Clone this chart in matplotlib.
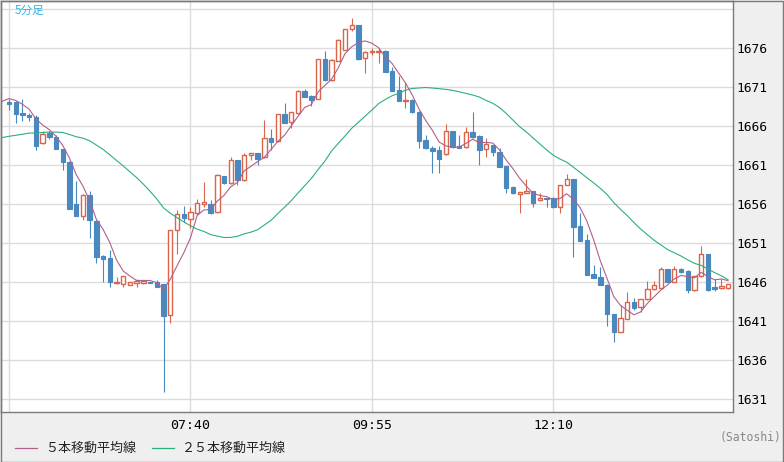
import numpy as np
import pandas as pd
import matplotlib
matplotlib.use("Agg")
import matplotlib.pyplot as plt
from matplotlib.patches import Rectangle
from matplotlib.lines import Line2D

# ---- data (5-minute candles, index 0 = 05:25) ----
prior_closes = [1664.8, 1664.5, 1664.0, 1663.5, 1663.0, 1663.5, 1663.2, 1663.2,
                1662.5, 1662.0, 1661.5, 1661.8, 1662.3, 1662.8, 1663.0, 1663.5,
                1664.0, 1664.3, 1664.6, 1665.2, 1667.0, 1668.8, 1669.9, 1670.3, 1669.8]

opens = [1669.1, 1669.1, 1667.7, 1667.45, 1667.2, 1663.8, 1665.06, 1664.6, 1663.05, 1661.4,
         1656.0, 1654.4, 1657.15, 1653.8, 1649.3, 1649.1, 1645.9, 1645.8, 1645.6, 1645.83,
         1645.9, 1646.05, 1645.96, 1645.7, 1641.73, 1652.63, 1654.68, 1654.04, 1654.8, 1655.96,
         1656.0, 1654.94, 1659.6, 1658.65, 1661.64, 1659.05, 1662.24, 1662.5, 1662.0, 1664.42,
         1664.04, 1667.5, 1666.47, 1667.63, 1670.49, 1669.85, 1669.42, 1674.55, 1671.9, 1674.37,
         1675.74, 1678.44, 1678.95, 1674.68, 1675.5, 1675.5, 1675.62, 1673.05, 1670.62, 1669.2,
         1669.33, 1667.83, 1664.2, 1663.22, 1662.92, 1662.37, 1665.36, 1663.48, 1663.27, 1665.27,
         1664.72, 1663.01, 1663.56, 1662.7, 1660.87, 1658.22, 1657.32, 1657.45, 1657.67, 1656.55,
         1656.73, 1656.73, 1655.58, 1658.44, 1659.17, 1653.18, 1651.38, 1646.99, 1646.68, 1645.62,
         1641.9, 1639.63, 1641.26, 1643.47, 1642.76, 1643.78, 1645.06, 1645.19, 1647.63, 1646.04,
         1647.67, 1647.41, 1644.97, 1646.77, 1649.55, 1645.4, 1645.19, 1645.19]
highs = [1669.4, 1669.2, 1669.5, 1667.7, 1667.4, 1665.3, 1665.3, 1664.8, 1663.1, 1661.5,
         1659.0, 1657.3, 1657.7, 1653.9, 1649.5, 1650.1, 1646.6, 1646.8, 1646.0, 1646.35,
         1646.1, 1646.05, 1646.25, 1645.8, 1652.7, 1655.23, 1655.74, 1655.65, 1656.6, 1658.82,
         1656.5, 1659.9, 1659.6, 1662.0, 1661.7, 1662.6, 1662.5, 1662.6, 1666.77, 1665.58,
         1667.6, 1668.9, 1667.8, 1670.6, 1670.7, 1669.97, 1674.6, 1675.65, 1674.6, 1677.1,
         1678.5, 1679.8, 1679.0, 1675.6, 1675.96, 1675.96, 1675.7, 1673.6, 1672.4, 1671.68,
         1669.4, 1667.9, 1664.85, 1663.4, 1663.4, 1666.26, 1665.4, 1664.85, 1665.83, 1667.83,
         1664.8, 1664.42, 1663.6, 1663.14, 1660.9, 1658.25, 1657.5, 1659.2, 1657.7, 1657.37,
         1656.75, 1656.94, 1658.5, 1659.85, 1659.2, 1654.81, 1652.15, 1648.18, 1647.97, 1645.7,
         1641.9, 1643.05, 1644.76, 1643.9, 1643.8, 1646.17, 1646.17, 1647.88, 1647.7, 1648.09,
         1647.85, 1647.5, 1646.8, 1650.62, 1649.6, 1646.35, 1646.35, 1645.8]
lows = [1668.1, 1666.4, 1666.6, 1666.6, 1662.9, 1663.7, 1664.3, 1663.0, 1660.3, 1655.3,
        1654.4, 1654.0, 1651.7, 1648.5, 1646.0, 1645.3, 1645.7, 1645.3, 1645.6, 1645.4,
        1645.7, 1645.9, 1645.4, 1631.9, 1640.8, 1649.55, 1653.73, 1652.9, 1654.55, 1655.65,
        1654.7, 1654.9, 1658.6, 1658.6, 1658.5, 1659.0, 1661.64, 1660.96, 1661.9, 1662.92,
        1664.0, 1666.4, 1665.7, 1667.6, 1669.7, 1668.56, 1669.4, 1671.8, 1671.8, 1674.3,
        1675.7, 1678.18, 1674.46, 1672.76, 1675.1, 1674.04, 1672.9, 1670.5, 1669.2, 1668.35,
        1667.7, 1663.14, 1663.1, 1659.94, 1659.94, 1662.3, 1663.2, 1663.14, 1663.2, 1664.5,
        1660.99, 1662.06, 1662.15, 1660.7, 1657.37, 1657.3, 1654.9, 1657.4, 1655.58, 1656.4,
        1655.58, 1655.5, 1654.81, 1658.4, 1649.24, 1651.2, 1646.9, 1646.5, 1645.6, 1640.3,
        1638.35, 1639.6, 1641.2, 1642.41, 1642.19, 1643.7, 1645.0, 1645.1, 1646.0, 1646.0,
        1647.2, 1644.63, 1644.9, 1646.7, 1644.9, 1644.89, 1645.1, 1645.1]
closes = [1668.8, 1667.6, 1667.4, 1667.2, 1663.5, 1665.0, 1664.55, 1663.1, 1661.35, 1655.4,
          1654.5, 1657.15, 1653.9, 1649.2, 1649.0, 1646.0, 1646.0, 1646.8, 1646.0, 1646.13,
          1646.1, 1645.9, 1645.4, 1641.7, 1652.67, 1654.68, 1654.24, 1654.97, 1656.1, 1656.22,
          1654.9, 1659.68, 1658.65, 1661.6, 1659.08, 1662.3, 1662.5, 1661.73, 1664.42, 1663.99,
          1667.5, 1666.42, 1667.76, 1670.49, 1669.76, 1669.33, 1674.55, 1671.9, 1674.46, 1677.03,
          1678.44, 1678.95, 1674.59, 1675.53, 1675.55, 1675.55, 1672.96, 1670.53, 1669.24, 1669.33,
          1667.83, 1664.12, 1663.14, 1662.83, 1661.81, 1665.36, 1663.27, 1663.22, 1665.19, 1664.55,
          1662.92, 1663.65, 1662.7, 1660.78, 1658.09, 1657.37, 1657.5, 1657.67, 1656.17, 1656.73,
          1656.64, 1655.58, 1658.44, 1659.17, 1653.09, 1651.29, 1646.94, 1646.55, 1645.62, 1641.86,
          1639.63, 1641.35, 1643.4, 1642.71, 1643.78, 1645.06, 1645.62, 1647.63, 1646.04, 1647.63,
          1647.24, 1644.97, 1646.77, 1649.55, 1644.97, 1645.14, 1645.49, 1645.74]

x_tick_idx = [0, 27, 54, 81]
x_tick_labels = ["", "07:40", "09:55", "12:10"]
y_ticks = [1631, 1636, 1641, 1646, 1651, 1656, 1661, 1666, 1671, 1676, 1681]
y_tick_labels = ["1631", "1636", "1641", "1646", "1651", "1656", "1661", "1666", "1671", "1676", ""]
legend_labels = ["５本移動平均線", "２５本移動平均線"]
title_text = "5分足"
credit_text = "(Satoshi)"

# ---- styles ----
RED = "#d9654a"
BLUE = "#4a89c0"
MA5_C = "#b0608c"
MA25_C = "#2bb07a"
GRID = "#dcdcdc"
BG = "#efefef"
SPINE = "#7a7a7a"
CJK = ["Noto Sans CJK JP", "DejaVu Sans"]

W, H = 784, 462
fig = plt.figure(figsize=(W / 100, H / 100), dpi=100, facecolor=BG)
ax = fig.add_axes([1 / W, (H - 412) / H, 732 / W, 411 / H])
ax.set_facecolor("white")

n = len(closes)
idx = np.arange(n)
o = np.array(opens); c = np.array(closes); h = np.array(highs); l = np.array(lows)

# moving averages from closes (with preceding closes)
all_close = pd.Series(prior_closes + closes)
all_idx = np.arange(-len(prior_closes), n)
ma5 = all_close.rolling(5).mean().values
ma25 = all_close.rolling(25).mean().values

ax.plot(all_idx, ma25, color=MA25_C, lw=0.8, zorder=4)
ax.plot(all_idx, ma5, color=MA5_C, lw=0.8, zorder=5)

up = c >= o
bw = 0.66
# wicks
ax.vlines(idx[up], l[up], h[up], color=RED, lw=0.8, zorder=2)
ax.vlines(idx[~up], l[~up], h[~up], color=BLUE, lw=0.8, zorder=2)
# bodies
body_lo = np.minimum(o, c)
body_h = np.maximum(np.abs(c - o), 0.13)
ax.bar(idx[up], body_h[up], bottom=body_lo[up], width=bw, facecolor="white",
       edgecolor=RED, linewidth=1.0, zorder=3)
ax.bar(idx[~up], body_h[~up], bottom=body_lo[~up], width=bw, facecolor=BLUE,
       edgecolor=BLUE, linewidth=0.8, zorder=3)

# axes limits (pixel mapped)
ax.set_xlim((1 - 9) / 6.72, (733 - 9) / 6.72)
ax.set_ylim(1676 - (412 - 48) / 7.8, 1676 + (48 - 1) / 7.8)

ax.set_xticks(x_tick_idx, x_tick_labels)
ax.set_yticks(y_ticks, y_tick_labels)
ax.yaxis.tick_right()
ax.tick_params(axis="both", length=0)
ax.tick_params(axis="y", pad=2.5, labelsize=9.3, labelcolor="black")
ax.tick_params(axis="x", pad=5, labelsize=9.5, labelcolor="black")
for lab in ax.get_xticklabels() + ax.get_yticklabels():
    lab.set_family("DejaVu Sans Mono")
ax.grid(True, color=GRID, lw=1.0, zorder=0)
ax.set_axisbelow(True)
for sp in ax.spines.values():
    sp.set_color(SPINE)
    sp.set_linewidth(1.0)

# top-left label
fig.text(15 / W, 1 - 10 / H, title_text, color="#33b5e5", fontsize=8.4,
         family=CJK, va="center", ha="left")

# legend at bottom
def fx(px):
    return px / W

def fy(py):
    return 1 - py / H

fig.add_artist(Line2D([fx(15), fx(37)], [fy(448), fy(448)], color=MA5_C, lw=0.9))
fig.text(fx(45), fy(448), legend_labels[0], fontsize=9.4, family=CJK,
         va="center", ha="left", color="#222222")
fig.add_artist(Line2D([fx(152), fx(174)], [fy(448), fy(448)], color=MA25_C, lw=0.9))
fig.text(fx(182), fy(448), legend_labels[1], fontsize=9.4, family=CJK,
         va="center", ha="left", color="#222222")

fig.text(fx(782), fy(438), credit_text, fontsize=8.3, family="DejaVu Sans Mono",
         va="center", ha="right", color="#888888")

# outer frame
fig.add_artist(Rectangle((0.5 / W, 0.5 / H), (W - 1.5) / W, (H - 1.5) / H,
                         transform=fig.transFigure, fill=False, edgecolor=SPINE, lw=1.0))

fig.savefig("out.png", dpi=100, facecolor=BG)
